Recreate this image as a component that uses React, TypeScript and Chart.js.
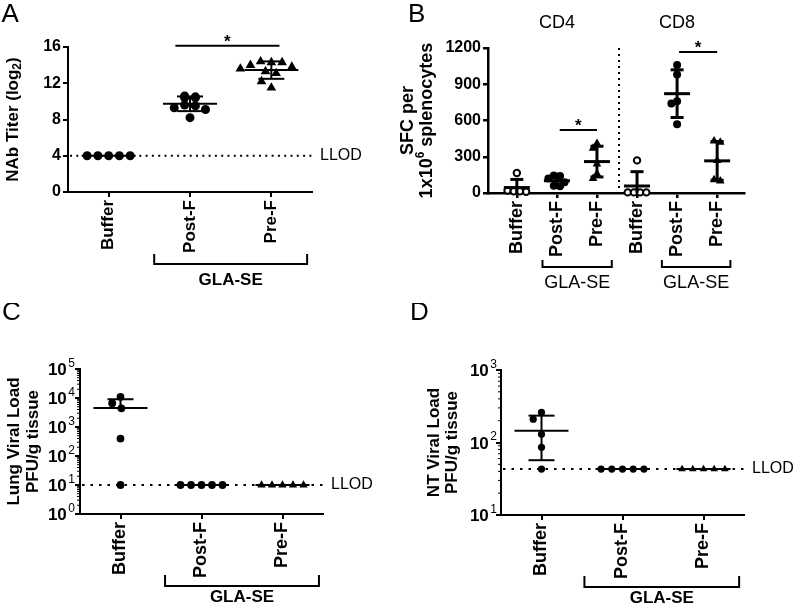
import { useEffect, useRef } from 'react';
import { Chart, registerables } from 'chart.js';

Chart.register(...registerables);

const FONT = '"Liberation Sans", Arial, Helvetica, sans-serif';

// ---------------- Panel A : NAb titer (log2) ----------------
const A_CATEGORIES = ['Buffer', 'Post-F', 'Pre-F'];
const A_Y_TICKS = [0, 4, 8, 12, 16];
const A_BUFFER = [4, 4, 4, 4, 4];
const A_POST_F = [10.6, 10.5, 10.4, 10.4, 9.6, 9.5, 9.3, 9.1, 8.2];
const A_PRE_F = [14.4, 14.3, 14.3, 14.0, 13.8, 13.6, 13.3, 13.1, 12.2, 11.5];
const A_LLOD = 4;

// ---------------- Panel B : SFC per 1x10^6 splenocytes ----------------
const B_CATEGORIES = ['Buffer', 'Post-F', 'Pre-F', 'Buffer', 'Post-F', 'Pre-F'];
const B_Y_TICKS = [0, 300, 600, 900, 1200];
const B_CD4_BUFFER = [165, 20, 15, 15, 10];
const B_CD4_POST_F = [145, 140, 120, 90, 60, 55];
const B_CD4_PRE_F = [410, 370, 240, 160, 120];
const B_CD8_BUFFER = [270, 5, 5, 5, 5];
const B_CD8_POST_F = [1060, 980, 760, 740, 570];
const B_CD8_PRE_F = [430, 420, 270, 110, 100];

// ---------------- Panel C : Lung viral load ----------------
const C_CATEGORIES = ['Buffer', 'Post-F', 'Pre-F'];
const C_Y_TICKS = [1, 10, 100, 1000, 10000, 100000];
const C_BUFFER = [11000, 6600, 4400, 400, 10];
const C_POST_F = [10, 10, 10, 10, 10];
const C_PRE_F = [10, 10, 10, 10, 10];
const C_LLOD = 10;

// ---------------- Panel D : NT viral load ----------------
const D_CATEGORIES = ['Buffer', 'Post-F', 'Pre-F'];
const D_Y_TICKS = [10, 100, 1000];
const D_BUFFER = [260, 210, 130, 86, 43];
const D_POST_F = [43, 43, 43, 43, 43];
const D_PRE_F = [43, 43, 43, 43, 43];
const D_LLOD = 43;

type Run = { t: string; f: string; dy?: number; dx?: number };
type Group = { cat: number; values: number[]; marker: 'circle' | 'triangle'; open?: boolean };

interface Spec {
  id: string;
  letter: string;
  left: number; top: number; w: number; h: number;
  area: { l: number; r: number; t: number; b: number };
  letterPos: { x: number; y: number };
  categories: string[];
  xMin: number; xMax: number;
  yLog: boolean; yMin: number; yMax: number; yTicks: number[];
  groups: Group[];
  circleR: number; triR: number; gap: number;
  lw: number; meanHalf: number; capHalf: number; axisW: number;
  llod?: number; dotDash: [number, number];
  separator?: number;
  title: { x: number; runs: Run[] }[];
  headers?: { cat: number; y: number; text: string }[];
  brackets: { from: number; to: number }[];
  bracket: { dy: number; tip: number; textDy: number; font: string; label: string };
  sig?: { x1: number; x2: number; y: number }[];
  xLabelSize: number;
  yTickSize: number;
  logLabelGap?: number;
}

const bold = (px: number) => `bold ${px}px ${FONT}`;
const normal = (px: number) => `${px}px ${FONT}`;

const SPECS: Spec[] = [
  {
    id: 'A', letter: 'A',
    left: 0, top: 0, w: 397, h: 303,
    area: { l: 68, r: 312, t: 47, b: 192 },
    letterPos: { x: 1.5, y: 22 },
    categories: A_CATEGORIES, xMin: -0.5, xMax: 2.5,
    yLog: false, yMin: 0, yMax: 16, yTicks: A_Y_TICKS,
    groups: [
      { cat: 0, values: A_BUFFER, marker: 'circle' },
      { cat: 1, values: A_POST_F, marker: 'circle' },
      { cat: 2, values: A_PRE_F, marker: 'triangle' },
    ],
    circleR: 4.5, triR: 5.6, gap: 10.75,
    lw: 2, meanHalf: 27, capHalf: 13, axisW: 2,
    llod: A_LLOD, dotDash: [2, 4.3],
    title: [{ x: 13.5, runs: [
      { t: 'NAb Titer (log', f: bold(17) },
      { t: '2', f: bold(12), dy: 4 },
      { t: ')', f: bold(17) },
    ] }],
    brackets: [{ from: 0.56, to: 2.44 }],
    bracket: { dy: 72, tip: 10, textDy: 88, font: bold(17), label: 'GLA-SE' },
    sig: [{ x1: 0.82, x2: 2.1, y: 16.15 }],
    xLabelSize: 17, yTickSize: 16,
  },
  {
    id: 'B', letter: 'B',
    left: 397, top: 0, w: 398, h: 303,
    area: { l: 91, r: 347, t: 48, b: 193 },
    letterPos: { x: 11, y: 22 },
    categories: B_CATEGORIES, xMin: -0.72, xMax: 5.67,
    yLog: false, yMin: 0, yMax: 1200, yTicks: B_Y_TICKS,
    groups: [
      { cat: 0, values: B_CD4_BUFFER, marker: 'circle', open: true },
      { cat: 1, values: B_CD4_POST_F, marker: 'circle' },
      { cat: 2, values: B_CD4_PRE_F, marker: 'triangle' },
      { cat: 3, values: B_CD8_BUFFER, marker: 'circle', open: true },
      { cat: 4, values: B_CD8_POST_F, marker: 'circle' },
      { cat: 5, values: B_CD8_PRE_F, marker: 'triangle' },
    ],
    circleR: 4, triR: 5, gap: 6.2,
    lw: 3, meanHalf: 13, capHalf: 6.5, axisW: 2.5,
    dotDash: [2, 4], separator: 2.55,
    title: [
      { x: 11, runs: [{ t: 'SFC per', f: bold(18) }] },
      { x: 30, runs: [
        { t: '1x10', f: bold(18) },
        { t: '6', f: bold(12), dy: -6 },
        { t: ' splenocytes', f: bold(18) },
      ] },
    ],
    headers: [
      { cat: 1, y: 23, text: 'CD4' },
      { cat: 4, y: 23, text: 'CD8' },
    ],
    brackets: [{ from: 0.64, to: 2.37 }, { from: 3.62, to: 5.33 }],
    bracket: { dy: 74, tip: 7, textDy: 90, font: normal(18), label: 'GLA-SE' },
    sig: [{ x1: 1.07, x2: 2.0, y: 521 }, { x1: 4.05, x2: 5.0, y: 1167 }],
    xLabelSize: 18, yTickSize: 16,
  },
  {
    id: 'C', letter: 'C',
    left: 0, top: 303, w: 397, h: 303,
    area: { l: 80, r: 323, t: 66, b: 211 },
    letterPos: { x: 2, y: 17 },
    categories: C_CATEGORIES, xMin: -0.5, xMax: 2.5,
    yLog: true, yMin: 1, yMax: 100000, yTicks: C_Y_TICKS,
    groups: [
      { cat: 0, values: C_BUFFER, marker: 'circle' },
      { cat: 1, values: C_POST_F, marker: 'circle' },
      { cat: 2, values: C_PRE_F, marker: 'triangle' },
    ],
    circleR: 3.9, triR: 4.8, gap: 10.5,
    lw: 2, meanHalf: 27, capHalf: 13, axisW: 2,
    llod: C_LLOD, dotDash: [2.5, 6],
    title: [
      { x: 14, runs: [{ t: 'Lung Viral Load', f: bold(17) }] },
      { x: 33, runs: [{ t: 'PFU/g tissue', f: bold(17) }] },
    ],
    brackets: [{ from: 0.55, to: 2.45 }],
    bracket: { dy: 72, tip: 11, textDy: 83, font: bold(17), label: 'GLA-SE' },
    xLabelSize: 18, yTickSize: 17, logLabelGap: 5,
  },
  {
    id: 'D', letter: 'D',
    left: 397, top: 303, w: 398, h: 303,
    area: { l: 104, r: 347, t: 67, b: 212 },
    letterPos: { x: 13, y: 17 },
    categories: D_CATEGORIES, xMin: -0.5, xMax: 2.5,
    yLog: true, yMin: 10, yMax: 1000, yTicks: D_Y_TICKS,
    groups: [
      { cat: 0, values: D_BUFFER, marker: 'circle' },
      { cat: 1, values: D_POST_F, marker: 'circle' },
      { cat: 2, values: D_PRE_F, marker: 'triangle' },
    ],
    circleR: 3.6, triR: 4.4, gap: 10.7,
    lw: 2, meanHalf: 27, capHalf: 13, axisW: 2,
    llod: D_LLOD, dotDash: [2.5, 6],
    title: [
      { x: 37, runs: [{ t: 'NT Viral Load', f: bold(17) }] },
      { x: 55, runs: [{ t: 'PFU/g tissue', f: bold(17) }] },
    ],
    brackets: [{ from: 0.53, to: 2.44 }],
    bracket: { dy: 72, tip: 11, textDy: 83, font: bold(17), label: 'GLA-SE' },
    xLabelSize: 18, yTickSize: 17, logLabelGap: 4,
  },
];

function drawRuns(ctx: CanvasRenderingContext2D, runs: Run[], x: number, y: number, align: 'left' | 'center' | 'right') {
  ctx.textBaseline = 'middle';
  ctx.textAlign = 'left';
  let total = 0;
  const ws = runs.map((r) => {
    ctx.font = r.f;
    const w = ctx.measureText(r.t).width + (r.dx || 0);
    total += w;
    return w;
  });
  let cx = align === 'left' ? x : align === 'center' ? x - total / 2 : x - total;
  runs.forEach((r, i) => {
    ctx.font = r.f;
    ctx.fillText(r.t, cx + (r.dx || 0), y + (r.dy || 0));
    cx += ws[i];
  });
}

// simple beeswarm: rows of (nearly) equal values are centred, others pushed aside
function swarmOffsets(ys: number[], gap: number): number[] {
  const idx = ys.map((_, i) => i).sort((a, b) => ys[a] - ys[b]);
  const out = new Array(ys.length).fill(0);
  const placed: { x: number; y: number }[] = [];
  const rows: number[][] = [];
  idx.forEach((i) => {
    const last = rows[rows.length - 1];
    if (last && Math.abs(ys[last[0]] - ys[i]) < 1.5) last.push(i);
    else rows.push([i]);
  });
  const singles: number[] = [];
  rows.forEach((row) => {
    if (row.length > 1) {
      row.forEach((i, j) => {
        out[i] = (j - (row.length - 1) / 2) * gap;
        placed.push({ x: out[i], y: ys[i] });
      });
    } else singles.push(row[0]);
  });
  singles.forEach((i) => {
    const y = ys[i];
    const blocked: [number, number][] = [];
    placed.forEach((p) => {
      const dy = Math.abs(p.y - y);
      if (dy < gap - 1e-6) {
        const dx = Math.sqrt(gap * gap - dy * dy);
        blocked.push([p.x - dx, p.x + dx]);
      }
    });
    const cands = [0];
    blocked.forEach(([a, b]) => cands.push(a, b));
    cands.sort((a, b) => Math.abs(a) - Math.abs(b) || a - b);
    let x = 0;
    for (const c of cands) {
      if (blocked.every(([a, b]) => c <= a + 1e-6 || c >= b - 1e-6)) { x = c; break; }
    }
    out[i] = x;
    placed.push({ x, y });
  });
  return out;
}

function line(ctx: CanvasRenderingContext2D, x1: number, y1: number, x2: number, y2: number) {
  ctx.beginPath();
  ctx.moveTo(x1, y1);
  ctx.lineTo(x2, y2);
  ctx.stroke();
}

function panelPlugin(s: Spec) {
  return {
    id: 'panel' + s.id,
    afterDatasetsUpdate(chart: any) {
      s.groups.forEach((_, di) => {
        const els = chart.getDatasetMeta(di).data as any[];
        const offs = swarmOffsets(els.map((e) => e.y), s.gap);
        els.forEach((e, k) => { e.x = e.x + offs[k]; });
      });
    },
    beforeDatasetsDraw(chart: any) {
      const ctx: CanvasRenderingContext2D = chart.ctx;
      const a = chart.chartArea;
      const xs = chart.scales.x;
      const ys = chart.scales.y;
      ctx.save();
      ctx.strokeStyle = '#000';
      ctx.lineWidth = 2;
      ctx.setLineDash(s.dotDash);
      if (s.llod !== undefined) {
        const py = ys.getPixelForValue(s.llod);
        line(ctx, a.left + 2, py, a.right, py);
      }
      if (s.separator !== undefined) {
        const px = xs.getPixelForValue(s.separator);
        line(ctx, px, a.top, px, a.bottom);
      }
      ctx.restore();
    },
    afterDatasetsDraw(chart: any) {
      const ctx: CanvasRenderingContext2D = chart.ctx;
      const a = chart.chartArea;
      const xs = chart.scales.x;
      const ys = chart.scales.y;
      ctx.save();
      ctx.strokeStyle = '#000';
      ctx.lineWidth = s.lw;
      s.groups.forEach((g) => {
        const n = g.values.length;
        const mean = g.values.reduce((p, v) => p + v, 0) / n;
        const sd = Math.sqrt(g.values.reduce((p, v) => p + (v - mean) * (v - mean), 0) / (n - 1));
        const cx = xs.getPixelForValue(g.cat);
        const my = ys.getPixelForValue(mean);
        line(ctx, cx - s.meanHalf, my, cx + s.meanHalf, my);
        if (sd > 0) {
          const hy = ys.getPixelForValue(mean + sd);
          line(ctx, cx, my, cx, hy);
          line(ctx, cx - s.capHalf, hy, cx + s.capHalf, hy);
          const lo = mean - sd;
          if (lo > s.yMin) {
            const ly = ys.getPixelForValue(lo);
            line(ctx, cx, my, cx, ly);
            line(ctx, cx - s.capHalf, ly, cx + s.capHalf, ly);
          } else if (!s.yLog) {
            line(ctx, cx, my, cx, a.bottom);
          }
        }
      });
      ctx.restore();
    },
    afterDraw(chart: any) {
      const ctx: CanvasRenderingContext2D = chart.ctx;
      const a = chart.chartArea;
      const xs = chart.scales.x;
      const ys = chart.scales.y;
      ctx.save();
      ctx.fillStyle = '#000';
      ctx.strokeStyle = '#000';

      // panel letter
      ctx.font = normal(26);
      ctx.textAlign = 'left';
      ctx.textBaseline = 'alphabetic';
      ctx.fillText(s.letter, s.letterPos.x, s.letterPos.y);

      // y-axis title (rotated)
      const cy = (a.top + a.bottom) / 2;
      s.title.forEach((t) => {
        ctx.save();
        ctx.translate(t.x, cy);
        ctx.rotate(-Math.PI / 2);
        drawRuns(ctx, t.runs, 0, 0, 'center');
        ctx.restore();
      });

      // log axis: minor ticks and 10^n labels
      if (s.yLog) {
        ctx.lineWidth = 1;
        const e0 = Math.round(Math.log10(s.yMin));
        const e1 = Math.round(Math.log10(s.yMax));
        for (let e = e0; e < e1; e++) {
          for (let m = 2; m <= 9; m++) {
            const py = ys.getPixelForValue(m * Math.pow(10, e));
            line(ctx, a.left - 3, py, a.left, py);
          }
        }
        s.yTicks.forEach((v) => {
          const py = ys.getPixelForValue(v);
          const ex = Math.round(Math.log10(v));
          drawRuns(ctx, [
            { t: '10', f: bold(s.yTickSize), dy: 1.5 },
            { t: String(ex), f: normal(12), dy: -5.5, dx: 1.5 },
          ], a.left - (s.logLabelGap || 5), py, 'right');
        });
      }

      // LLOD label
      if (s.llod !== undefined) {
        ctx.font = normal(16);
        ctx.textAlign = 'left';
        ctx.textBaseline = 'middle';
        ctx.fillText('LLOD', a.right + 8, ys.getPixelForValue(s.llod));
      }

      // group headers
      (s.headers || []).forEach((hd) => {
        ctx.font = normal(18);
        ctx.textAlign = 'center';
        ctx.textBaseline = 'middle';
        ctx.fillText(hd.text, xs.getPixelForValue(hd.cat), hd.y);
      });

      // brackets under the x axis
      ctx.lineWidth = 2;
      s.brackets.forEach((b) => {
        const x1 = xs.getPixelForValue(b.from);
        const x2 = xs.getPixelForValue(b.to);
        const ly = a.bottom + s.bracket.dy;
        ctx.beginPath();
        ctx.moveTo(x1, ly - s.bracket.tip);
        ctx.lineTo(x1, ly);
        ctx.lineTo(x2, ly);
        ctx.lineTo(x2, ly - s.bracket.tip);
        ctx.stroke();
        ctx.font = s.bracket.font;
        ctx.textAlign = 'center';
        ctx.textBaseline = 'middle';
        ctx.fillText(s.bracket.label, (x1 + x2) / 2, a.bottom + s.bracket.textDy);
      });

      // significance bars
      (s.sig || []).forEach((g) => {
        const x1 = xs.getPixelForValue(g.x1);
        const x2 = xs.getPixelForValue(g.x2);
        const py = ys.getPixelForValue(g.y);
        ctx.lineWidth = 2;
        line(ctx, x1, py, x2, py);
        ctx.font = bold(17);
        ctx.textAlign = 'center';
        ctx.textBaseline = 'alphabetic';
        ctx.fillText('*', (x1 + x2) / 2, py + 1);
      });
      ctx.restore();
    },
  };
}

function buildConfig(s: Spec): any {
  const datasets = s.groups.map((g) => ({
    data: g.values.map((v) => ({ x: g.cat, y: v })),
    pointStyle: g.marker,
    pointRadius: g.marker === 'triangle' ? s.triR : g.open ? s.circleR - 0.8 : s.circleR,
    pointBackgroundColor: g.open ? '#fff' : '#000',
    pointBorderColor: '#000',
    pointBorderWidth: g.open ? 2 : 0,
    clip: false,
  }));
  const gridOpts = { display: true, drawOnChartArea: false, drawTicks: true, tickLength: 5, lineWidth: s.axisW, color: '#000' };
  const borderOpts = { display: true, color: '#000', width: s.axisW };
  return {
    type: 'scatter',
    data: { datasets },
    options: {
      responsive: false,
      animation: false,
      devicePixelRatio: 1,
      events: [],
      layout: { autoPadding: false, padding: { left: 0, top: s.area.t, right: s.w - s.area.r, bottom: 0 } },
      plugins: { legend: { display: false }, tooltip: { enabled: false } },
      scales: {
        x: {
          type: 'linear',
          min: s.xMin,
          max: s.xMax,
          afterBuildTicks: (ax: any) => { ax.ticks = s.categories.map((_, i) => ({ value: i })); },
          afterFit: (ax: any) => { ax.height = s.h - s.area.b; },
          ticks: {
            autoSkip: false,
            minRotation: 90,
            maxRotation: 90,
            padding: 3,
            color: '#000',
            font: { family: FONT, size: s.xLabelSize, weight: 'bold' },
            callback: (_v: any, i: number) => s.categories[i] ?? '',
          },
          grid: gridOpts,
          border: borderOpts,
        },
        y: {
          type: s.yLog ? 'logarithmic' : 'linear',
          min: s.yMin,
          max: s.yMax,
          afterBuildTicks: (ax: any) => { ax.ticks = s.yTicks.map((v) => ({ value: v })); },
          afterFit: (ax: any) => { ax.width = s.area.l; },
          ticks: {
            display: !s.yLog,
            padding: 2,
            color: '#000',
            font: { family: FONT, size: s.yTickSize, weight: 'bold' },
            callback: (v: any) => String(v),
          },
          grid: gridOpts,
          border: borderOpts,
        },
      },
    },
    plugins: [panelPlugin(s)],
  };
}

export default function App() {
  const r0 = useRef<HTMLCanvasElement>(null);
  const r1 = useRef<HTMLCanvasElement>(null);
  const r2 = useRef<HTMLCanvasElement>(null);
  const r3 = useRef<HTMLCanvasElement>(null);
  const refs = [r0, r1, r2, r3];

  useEffect(() => {
    const charts = SPECS.map((s, i) => new Chart(refs[i].current as HTMLCanvasElement, buildConfig(s)));
    return () => charts.forEach((c) => c.destroy());
  }, []);

  return (
    <div style={{ position: 'fixed', left: 0, top: 0, width: 795, height: 606, background: '#fff', overflow: 'hidden' }}>
      {SPECS.map((s, i) => (
        <canvas
          key={s.id}
          ref={refs[i]}
          width={s.w}
          height={s.h}
          style={{ position: 'absolute', left: s.left, top: s.top, width: s.w, height: s.h }}
        />
      ))}
    </div>
  );
}
